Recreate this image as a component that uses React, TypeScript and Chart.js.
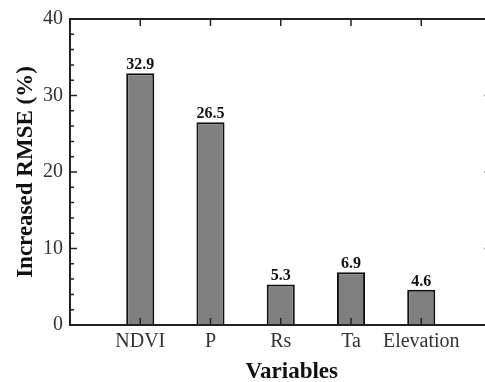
import React, { useEffect, useRef } from "react";
import { Chart, registerables } from "chart.js";

Chart.register(...registerables);

const categories = ["NDVI", "P", "Rs", "Ta", "Elevation"];
const values = [32.9, 26.5, 5.3, 6.9, 4.6];
const yTicks = [0, 10, 20, 30, 40];
const yMinorStep = 2;
const yTitle = "Increased RMSE (%)";
const xTitle = "Variables";

const SERIF = "'Liberation Serif', 'Times New Roman', serif";

const framePlugin = {
  id: "frame",
  afterDraw(chart: any) {
    const { ctx, chartArea } = chart;
    const { left, right, top, bottom } = chartArea;
    const ys = chart.scales.y;
    const xs = chart.scales.x;
    ctx.save();
    ctx.strokeStyle = "#222";
    ctx.lineWidth = 2;
    ctx.strokeRect(left, top, right - left, bottom - top);
    ctx.lineWidth = 1.5;
    const maxV = yTicks[yTicks.length - 1];
    for (let v = yTicks[0]; v <= maxV; v += yMinorStep) {
      const py = ys.getPixelForValue(v);
      const len = yTicks.includes(v) ? 7 : 4;
      ctx.beginPath();
      ctx.moveTo(left, py);
      ctx.lineTo(left + len, py);
      ctx.moveTo(right, py);
      ctx.lineTo(right - len, py);
      ctx.stroke();
    }
    categories.forEach((_, i) => {
      const px = xs.getPixelForValue(i + 1);
      ctx.beginPath();
      ctx.moveTo(px, bottom);
      ctx.lineTo(px, bottom - 7);
      ctx.moveTo(px, top);
      ctx.lineTo(px, top + 7);
      ctx.stroke();
    });
    const meta = chart.getDatasetMeta(0);
    ctx.fillStyle = "#111";
    ctx.font = `bold 16px ${SERIF}`;
    ctx.textAlign = "center";
    ctx.textBaseline = "alphabetic";
    meta.data.forEach((bar: any, i: number) => {
      ctx.fillText(values[i].toFixed(1), bar.x, bar.y - 4);
    });
    ctx.font = `bold 23px ${SERIF}`;
    ctx.fillText(xTitle, (left + right) / 2 + 11, chart.height - 4);
    ctx.save();
    ctx.translate(32, (top + bottom) / 2);
    ctx.rotate(-Math.PI / 2);
    ctx.fillText(yTitle, 0, 0);
    ctx.restore();
    ctx.restore();
  },
};

export default function App() {
  const ref = useRef<HTMLCanvasElement | null>(null);
  useEffect(() => {
    if (!ref.current) return;
    const chart = new Chart(ref.current, {
      type: "bar",
      data: {
        datasets: [
          {
            data: values.map((v, i) => ({ x: i + 1, y: v })),
            backgroundColor: "#808080",
            borderColor: "#111",
            borderWidth: 2,
            barPercentage: 0.5,
            categoryPercentage: 0.8,
          },
        ],
      },
      options: {
        responsive: false,
        animation: false,
        events: [],
        layout: { padding: { top: 17, right: 8.5, left: 0, bottom: 0 } },
        plugins: { legend: { display: false }, tooltip: { enabled: false } },
        scales: {
          x: {
            type: "linear",
            offset: false,
            min: 0,
            max: categories.length + 1,
            grid: { display: false, drawTicks: false },
            border: { display: false },
            afterBuildTicks: (scale: any) => {
              scale.ticks = categories.map((_, i) => ({ value: i + 1 }));
            },
            afterFit: (scale: any) => {
              scale.height = 57;
            },
            ticks: {
              autoSkip: false,
              maxRotation: 0,
              padding: 5,
              color: "#333",
              font: { family: SERIF, size: 20 },
              callback: (v: any) => categories[Number(v) - 1] ?? "",
            },
          },
          y: {
            min: yTicks[0],
            max: yTicks[yTicks.length - 1],
            grid: { display: false, drawTicks: false },
            border: { display: false },
            afterFit: (scale: any) => {
              scale.width = 70;
            },
            ticks: {
              stepSize: 10,
              padding: 7,
              color: "#333",
              font: { family: SERIF, size: 20 },
            },
          },
        },
      },
      plugins: [framePlugin],
    });
    return () => chart.destroy();
  }, []);
  return (
    <div
      style={{
        position: "fixed",
        left: 0,
        top: 0,
        width: 485,
        height: 382,
        overflow: "hidden",
        background: "#fff",
      }}
    >
      <canvas ref={ref} width={500} height={382} style={{ display: "block" }} />
    </div>
  );
}
